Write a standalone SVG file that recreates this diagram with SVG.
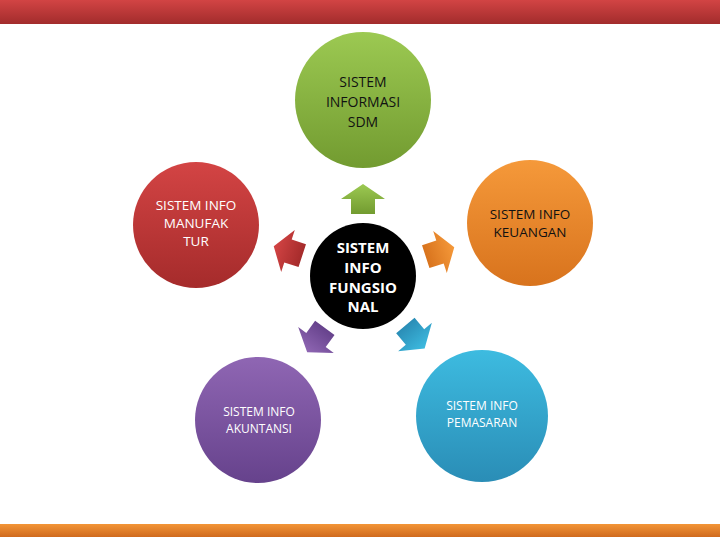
<svg xmlns="http://www.w3.org/2000/svg" width="720" height="540" viewBox="0 0 720 540">
<style>
.t{font-family:"Open Sans","Liberation Sans",sans-serif;text-anchor:middle}
.w{fill:#ffffff}
.k{fill:#111111}
</style>
<defs>
<linearGradient id="gTop" x1="0" y1="0" x2="0" y2="1"><stop offset="0" stop-color="#d24444"/><stop offset="1" stop-color="#a22c2c"/></linearGradient>
<linearGradient id="gBot" x1="0" y1="0" x2="0" y2="1"><stop offset="0" stop-color="#f39536"/><stop offset="1" stop-color="#cf6a1e"/></linearGradient>
<linearGradient id="gGreen" x1="0" y1="0" x2="0" y2="1"><stop offset="0" stop-color="#9cc952"/><stop offset="1" stop-color="#729b30"/></linearGradient>
<linearGradient id="gRed" x1="0" y1="0" x2="0" y2="1"><stop offset="0" stop-color="#d34444"/><stop offset="1" stop-color="#a52b2b"/></linearGradient>
<linearGradient id="gOrange" x1="0" y1="0" x2="0" y2="1"><stop offset="0" stop-color="#f5993a"/><stop offset="1" stop-color="#d8731d"/></linearGradient>
<linearGradient id="gPurple" x1="0" y1="0" x2="0" y2="1"><stop offset="0" stop-color="#8f66b3"/><stop offset="1" stop-color="#66428c"/></linearGradient>
<linearGradient id="gCyan" x1="0" y1="0" x2="0" y2="1"><stop offset="0" stop-color="#3dbbe0"/><stop offset="1" stop-color="#2a8db6"/></linearGradient>
<path id="arr" d="M0,-15 L22,0 L12,0 L12,15 L-12,15 L-12,0 L-22,0 Z"/>
</defs>
<rect width="720" height="540" fill="#ffffff"/>
<rect x="0" y="0" width="720" height="24" fill="url(#gTop)"/>
<rect x="0" y="524" width="720" height="13" fill="url(#gBot)"/>

<g id="connectors">
<use href="#arr" fill="url(#gGreen)" transform="translate(363,199)"/>
<use href="#arr" fill="url(#gRed)" transform="translate(288,251) rotate(-72)"/>
<use href="#arr" fill="url(#gOrange)" transform="translate(440,252) rotate(72)"/>
<use href="#arr" fill="url(#gPurple)" transform="translate(316,340) rotate(-144)"/>
<use href="#arr" fill="url(#gCyan)" transform="translate(415,337) rotate(140)"/>
</g>

<g id="sdm">
<circle cx="363" cy="100" r="68" fill="url(#gGreen)"/>
<text class="t k" font-size="14"><tspan x="363" y="87">SISTEM</tspan><tspan x="363" y="107">INFORMASI</tspan><tspan x="363" y="127">SDM</tspan></text>
</g>
<g id="manufaktur">
<circle cx="196" cy="225" r="63" fill="url(#gRed)"/>
<text class="t w" font-size="13.5"><tspan x="196" y="210">SISTEM INFO</tspan><tspan x="196" y="228">MANUFAK</tspan><tspan x="196" y="246">TUR</tspan></text>
</g>
<g id="keuangan">
<circle cx="530" cy="223" r="63" fill="url(#gOrange)"/>
<text class="t k" font-size="13.5"><tspan x="530" y="219">SISTEM INFO</tspan><tspan x="530" y="237">KEUANGAN</tspan></text>
</g>
<g id="fungsional">
<circle cx="363" cy="276" r="53" fill="#000000"/>
<text class="t w" font-size="15" font-weight="bold"><tspan x="363" y="253">SISTEM</tspan><tspan x="363" y="273">INFO</tspan><tspan x="363" y="293">FUNGSIO</tspan><tspan x="363" y="312">NAL</tspan></text>
</g>
<g id="akuntansi">
<circle cx="258" cy="420" r="63" fill="url(#gPurple)"/>
<text class="t w" font-size="12"><tspan x="259" y="416">SISTEM INFO</tspan><tspan x="259" y="433">AKUNTANSI</tspan></text>
</g>
<g id="pemasaran">
<circle cx="482" cy="416" r="66" fill="url(#gCyan)"/>
<text class="t w" font-size="12"><tspan x="482" y="410">SISTEM INFO</tspan><tspan x="482" y="427">PEMASARAN</tspan></text>
</g>
</svg>
